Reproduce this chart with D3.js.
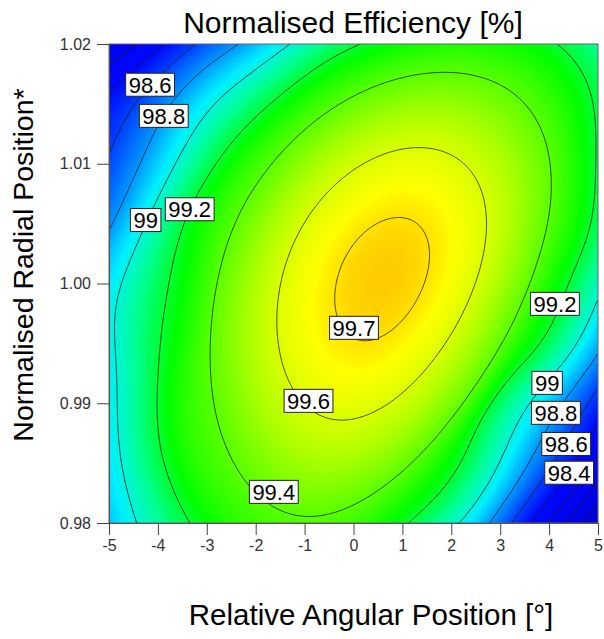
<!DOCTYPE html>
<html lang="en">
<head>
<meta charset="UTF-8">
<title>Normalised Efficiency [%]</title>
<style>
  body { margin: 0; background: #fff; font-family: Arial, "Liberation Sans", sans-serif; }
  svg { display: block; }
  .axis .tick text { font-size: 16px; fill: #333; font-family: Arial, "Liberation Sans", sans-serif; }
  .axis .tick line { stroke: #444; }
  .axis path { stroke: #555; }
  .clabel rect { fill: #fff; stroke: #222; stroke-width: 1; }
  .clabel text { font-size: 22px; fill: #000; }
  .title { fill: #000; }
</style>
</head>
<body>
<svg width="604" height="639"></svg>
<script src="https://cdn.jsdelivr.net/npm/d3@7"></script>
<script>
const line997 = [[0.94, 1.0055], [1.55, 1.0026], [1.41, 1.0003], [-0.44, 0.9992], [-0.43, 1.0003], [0.12, 0.9951], [0.53, 0.99575]];
const line996 = [[1.59, 1.0114], [2.71, 1.0056], [2.47, 1.0003], [-1.67, 0.9959], [-0.42, 0.9885], [-0.92, 0.9902]];
const line994 = [[2.16, 1.0178], [4.05, 1.0085], [3.96, 1.00425], [3.73, 1.0003], [3.12, 0.9953], [-3.02, 0.9937],
                 [-2.6, 1.0003], [-1.82, 1.0087], [-0.83, 0.9809], [-1.63, 0.9826]];
const line992 = [[0.16, 1.02], [4.16, 1.02], [4.96, 1.012], [4.92, 1.0078], [4.78, 1.0037], [4.41, 0.9995], [4.12, 0.9983],
                 [3.94, 0.9953], [1.76, 0.9826], [1.14, 0.98], [-4.02, 0.9906], [-3.99, 0.9934], [-3.89, 0.9851],
                 [-3.35, 0.98], [-3.72, 1.0003], [-3.35, 1.0062]];
const line990 = [[-1.31, 1.02], [-4.25, 1.0053], [-4.76, 1.0003], [-4.82, 0.992], [-4.84, 0.9893], [-4.78, 0.9864],
                 [-4.43, 0.98], [2.12, 0.98], [3.65, 0.9906], [3.96, 0.9917], [4.61, 0.9953], [4.98, 0.9987]];
const line988 = [[-5.0, 1.0041], [-4.47, 1.0087], [-3.88, 1.014], [-2.33, 1.02], [4.14, 0.9892], [2.84, 0.98], [4.98, 0.9939]];
const line986 = [[-5.0, 1.0112], [-4.16, 1.0166], [-3.22, 1.02], [4.35, 0.9866], [3.24, 0.98], [4.98, 0.9912]];
const line984 = [[-5.0, 1.0155], [-3.94, 1.02], [4.41, 0.9842], [3.59, 0.98], [4.98, 0.9884]];
const line982 = [[-5.0, 1.0189], [-4.39, 1.02], [3.96, 0.98]];
const line980 = [[-4.82, 1.02], [4.35, 0.98]];
const line978 = [[4.67, 0.98]];

const traceLevels = [99.7, 99.6, 99.4, 99.2, 99.0, 98.8, 98.6, 98.4, 98.2, 98.0, 97.8];
const tracePoints = [line997, line996, line994, line992, line990, line988, line986, line984, line982, line980, line978];

const contourLevels = [97.6, 97.8, 98.0, 98.2, 98.4, 98.6, 98.8, 99.0, 99.2, 99.4, 99.6, 99.7];

const labelText = ["98.6", "98.8", "99", "99.2", "99.7", "99.6", "99.4", "99.2", "99", "98.8", "98.6", "98.4"];
const labelAngle = [-4.16, -3.88, -4.25, -3.35, 0.01, -0.92, -1.63, 4.12, 3.96, 4.14, 4.35, 4.41];
const labelRadial = [1.0166, 1.0140, 1.0053, 1.0062, 0.9963, 0.9902, 0.9826, 0.9983, 0.9917, 0.9892, 0.9866, 0.9842];

const angleTicks = [-5, -4, -3, -2, -1, 0, 1, 2, 3, 4, 5];
const radialTicks = [0.98, 0.99, 1.00, 1.01, 1.02];

const colorStops = [97.6, 98.4, 98.6, 98.8, 98.95, 99.1, 99.25, 99.45, 99.6, 99.67, 99.74];
const colorRange = ["#0000d8", "#0008ff", "#0040ff", "#0098ff", "#00f0ff", "#00ff90", "#00ff00", "#78ff00", "#d8ff00", "#ffff00", "#ffc000"];

const svg = d3.select("svg");
const margin = {left: 109, right: 6, top: 44, bottom: 116};
const W = 604, H = 639;

const x = d3.scaleLinear().domain([-5, 5]).range([margin.left, W - margin.right]);
const y = d3.scaleLinear().domain([0.98, 1.02]).range([H - margin.bottom, margin.top]);
const color = d3.scaleLinear().domain(colorStops).range(colorRange).clamp(true);

// normalised coordinates, both axes on [-1, 1]
const nu = a => a / 5;
const nv = r => (r - 1) / 0.02;

// Quartic response surface fitted through the traced contour points
function basis(a, r) {
  const u = nu(a), v = nv(r);
  const out = [];
  for (let d = 0; d <= 4; d++)
    for (let k = 0; k <= d; k++) out.push(Math.pow(u, d - k) * Math.pow(v, k));
  return out;
}

function solve(A, b) {
  const n = b.length;
  const M = A.map((row, i) => [...row, b[i]]);
  for (let c = 0; c < n; c++) {
    let p = c;
    for (let r = c + 1; r < n; r++) if (Math.abs(M[r][c]) > Math.abs(M[p][c])) p = r;
    [M[c], M[p]] = [M[p], M[c]];
    for (let r = c + 1; r < n; r++) {
      const f = M[r][c] / M[c][c];
      for (let k = c; k <= n; k++) M[r][k] -= f * M[c][k];
    }
  }
  const out = new Array(n).fill(0);
  for (let r = n - 1; r >= 0; r--) {
    let s = M[r][n];
    for (let k = r + 1; k < n; k++) s -= M[r][k] * out[k];
    out[r] = s / M[r][r];
  }
  return out;
}

const obs = [];
tracePoints.forEach((pts, li) => pts.forEach(([a, r]) => obs.push({a, r, e: traceLevels[li]})));

const nb = basis(0, 1).length;
const AtA = Array.from({length: nb}, () => new Array(nb).fill(0));
const Atb = new Array(nb).fill(0);
obs.forEach(o => {
  const w2 = 1 / (99.76 - o.e); // surface is flat near the top, so weight inner rings more
  const row = basis(o.a, o.r);
  for (let i = 0; i < nb; i++) {
    Atb[i] += w2 * row[i] * o.e;
    for (let j = 0; j < nb; j++) AtA[i][j] += w2 * row[i] * row[j];
  }
});
for (let i = 1; i < nb; i++) AtA[i][i] += 1e-4;
const coef = solve(AtA, Atb);
const trend = (a, r) => d3.sum(basis(a, r), (t, i) => t * coef[i]);

// radial-basis correction from the outer rings only, faded out towards the peak
const sigma = 0.25, lambda = 0.04;
const kern = (a1, r1, a2, r2) => {
  const du = nu(a1) - nu(a2), dv = nv(r1) - nv(r2);
  return Math.exp(-(du * du + dv * dv) / (2 * sigma * sigma));
};
const outer = obs.filter(o => o.e <= 99.2);
const K = outer.map((o, i) => outer.map((p, j) => kern(o.a, o.r, p.a, p.r) + (i === j ? lambda : 0)));
const alpha = solve(K, outer.map(o => o.e - trend(o.a, o.r)));
const correction = (a, r) => d3.sum(outer, (o, i) => alpha[i] * kern(a, r, o.a, o.r));
const fade = t => {
  const s = Math.min(1, Math.max(0, (99.45 - t) / 0.2));
  return s * s * (3 - 2 * s);
};
const eff = (a, r) => {
  const t = trend(a, r);
  return t + fade(t) * correction(a, r);
};

// Sample the surface on a grid covering the plot
const nx = 245, ny = 240;
const gA = d3.scaleLinear().domain([0, nx]).range([-5, 5]);
const gR = d3.scaleLinear().domain([0, ny]).range([1.02, 0.98]);
const values = new Float64Array(nx * ny);
for (let j = 0; j < ny; j++)
  for (let i = 0; i < nx; i++)
    values[j * nx + i] = eff(gA(i + 0.5), gR(j + 0.5));

const path = d3.geoPath(d3.geoTransform({
  point(px, py) { this.stream.point(x(gA(px)), y(gR(py))); }
}));

svg.append("defs").append("clipPath").attr("id", "plot-clip")
  .append("rect")
  .attr("x", x(-5)).attr("y", y(1.02))
  .attr("width", x(5) - x(-5)).attr("height", y(0.98) - y(1.02));

const plot = svg.append("g").attr("clip-path", "url(#plot-clip)");

// colour fill: many thin bands, finer near the top
const [vmin, vmax] = d3.extent(values);
const bandThresholds = d3.range(Math.floor(vmin * 100) / 100, 99.5, 0.01)
  .concat(d3.range(99.5, vmax, 0.002));
plot.append("rect")
  .attr("x", x(-5)).attr("y", y(1.02))
  .attr("width", x(5) - x(-5)).attr("height", y(0.98) - y(1.02))
  .attr("fill", color(vmin));
plot.append("g")
  .selectAll("path")
  .data(d3.contours().size([nx, ny]).thresholds(bandThresholds)(values))
  .join("path")
  .attr("d", path)
  .attr("fill", d => color(d.value + 0.003));

// contour lines, without the parts that run along the plot border
function onSameEdge(p, q) {
  return (p[0] === 0 && q[0] === 0) || (p[0] === nx && q[0] === nx) ||
         (p[1] === 0 && q[1] === 0) || (p[1] === ny && q[1] === ny);
}
function isolines(level) {
  const mp = d3.contours().size([nx, ny]).thresholds([level])(values)[0];
  const out = [];
  mp.coordinates.forEach(poly => poly.forEach(ring => {
    let cur = [];
    for (let k = 0; k < ring.length - 1; k++) {
      const p = ring[k], q = ring[k + 1];
      if (onSameEdge(p, q)) {
        if (cur.length > 1) out.push(cur);
        cur = [];
      } else {
        if (!cur.length) cur.push(p);
        cur.push(q);
      }
    }
    if (cur.length > 1) out.push(cur);
  }));
  return out;
}
const lineGen = d3.line().x(p => x(gA(p[0]))).y(p => y(gR(p[1])));
contourLevels.forEach(level => {
  plot.append("g")
    .selectAll("path")
    .data(isolines(level))
    .join("path")
    .attr("d", lineGen)
    .attr("fill", "none")
    .attr("stroke", "#1e1e1e")
    .attr("stroke-width", 0.8);
});

// frame
svg.append("rect")
  .attr("x", x(-5)).attr("y", y(1.02))
  .attr("width", x(5) - x(-5)).attr("height", y(0.98) - y(1.02))
  .attr("fill", "none").attr("stroke", "#666").attr("stroke-width", 1);

// contour labels
const labels = svg.append("g").attr("class", "clabel")
  .selectAll("g")
  .data(labelText.map((t, i) => ({t, a: labelAngle[i], r: labelRadial[i]})))
  .join("g")
  .attr("transform", d => `translate(${x(d.a)},${y(d.r)})`);
labels.append("text")
  .attr("text-anchor", "middle")
  .attr("dy", "0.36em")
  .text(d => d.t);
labels.each(function() {
  const g = d3.select(this);
  const bb = g.select("text").node().getBBox();
  g.insert("rect", "text")
    .attr("x", -bb.width / 2 - 3).attr("y", -11.5)
    .attr("width", bb.width + 6).attr("height", 23);
});

// axes
svg.append("g")
  .attr("class", "axis")
  .attr("transform", `translate(0,${y(0.98)})`)
  .call(d3.axisBottom(x).tickValues(angleTicks).tickFormat(d => String(d)).tickSize(12).tickSizeOuter(0).tickPadding(5));
svg.append("g")
  .attr("class", "axis")
  .attr("transform", `translate(${x(-5)},0)`)
  .call(d3.axisLeft(y).tickValues(radialTicks).tickFormat(d3.format(".2f")).tickSize(12).tickSizeOuter(0).tickPadding(6));

// titles
svg.append("text").attr("class", "title").style("font-size", "30px")
  .attr("x", 353).attr("y", 33).attr("text-anchor", "middle")
  .text("Normalised Efficiency [%]");
svg.append("text").attr("class", "title").style("font-size", "28.5px")
  .attr("transform", "translate(33,265) rotate(-90)").attr("text-anchor", "middle")
  .text("Normalised Radial Position*");
svg.append("text").attr("class", "title").style("font-size", "29.5px")
  .attr("x", 371).attr("y", 625).attr("text-anchor", "middle")
  .text("Relative Angular Position [°]");
</script>
</body>
</html>
